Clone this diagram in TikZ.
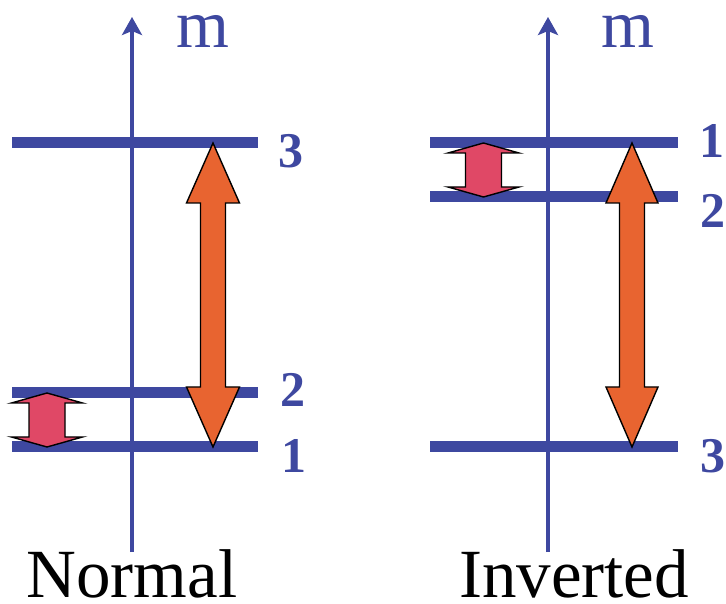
\documentclass[tikz,border=0pt]{standalone}
\usepackage{fontspec}
\setmainfont{Liberation Serif}
\usetikzlibrary{arrows.meta}
\definecolor{lvlblue}{RGB}{62,72,160}
\definecolor{redarr}{RGB}{224,72,102}
\definecolor{orarr}{RGB}{232,100,48}
\newcommand{\dblarr}[7]{%
  % #1 cx, #2 ytop, #3 ybot, #4 head half width, #5 head length, #6 shaft half width, #7 colour
  \filldraw[arrowshape,fill=#7]
    (#1,#2) -- (#1+#4,#2-#5) -- (#1+#6,#2-#5) -- (#1+#6,#3+#5) -- (#1+#4,#3+#5)
    -- (#1,#3) -- (#1-#4,#3+#5) -- (#1-#6,#3+#5) -- (#1-#6,#2-#5) -- (#1-#4,#2-#5) -- cycle;}
\begin{document}
\begin{tikzpicture}[x=1pt,y=1pt,
  level/.style={draw=lvlblue,line width=11pt},
  axis/.style={draw=lvlblue,line width=4pt,-{Stealth[length=18pt,width=20pt,inset=4pt]}},
  arrowshape/.style={draw=black,line width=1.4pt,line join=miter},
  num/.style={text=lvlblue,font=\fontsize{50}{50}\selectfont\bfseries,inner sep=0pt},
  axlabel/.style={text=lvlblue,font=\fontsize{68}{68}\selectfont,inner sep=0pt},
  caption/.style={text=black,font=\fontsize{69}{69}\selectfont,inner sep=0pt,anchor=base}]
\useasboundingbox (0,0) rectangle (726,603);
% axes
\coordinate (La) at (132,51);
\coordinate (Lb) at (132,586);
\coordinate (Ra) at (548,51);
\coordinate (Rb) at (548,586);
\draw[axis] (La) -- (Lb);
\draw[axis] (Ra) -- (Rb);
\node[axlabel] (mL) at (203,572) {m};
\node[axlabel] (mR) at (628,572) {m};
% left levels (normal)
\coordinate (L3a) at (12,460); \coordinate (L3b) at (258,460);
\coordinate (L2a) at (12,210); \coordinate (L2b) at (258,210);
\coordinate (L1a) at (12,156); \coordinate (L1b) at (258,156);
\draw[level] (L3a) -- (L3b);
\draw[level] (L2a) -- (L2b);
\draw[level] (L1a) -- (L1b);
% right levels (inverted)
\coordinate (R1a) at (430,460); \coordinate (R1b) at (678,460);
\coordinate (R2a) at (430,406); \coordinate (R2b) at (678,406);
\coordinate (R3a) at (430,156); \coordinate (R3b) at (678,156);
\draw[level] (R1a) -- (R1b);
\draw[level] (R2a) -- (R2b);
\draw[level] (R3a) -- (R3b);
% double arrows
\dblarr{47}{210}{156}{35.5}{10}{18}{redarr}
\dblarr{213}{460}{156}{26.5}{60}{12.5}{orarr}
\dblarr{483.5}{460}{406}{35.5}{10}{18}{redarr}
\dblarr{632}{460}{156}{26}{60}{12.5}{orarr}
% level labels
\node[num] (n3L) at (291,452) {3};
\node[num] (n2L) at (293,213) {2};
\node[num] (n1L) at (294,147) {1};
\node[num] (n1R) at (712,462) {1};
\node[num] (n2R) at (713,392) {2};
\node[num] (n3R) at (713,147) {3};
% captions
\node[caption] (normal) at (132,6) {Normal};
\node[caption] (inverted) at (574,6) {Inverted};
\end{tikzpicture}
\end{document}
